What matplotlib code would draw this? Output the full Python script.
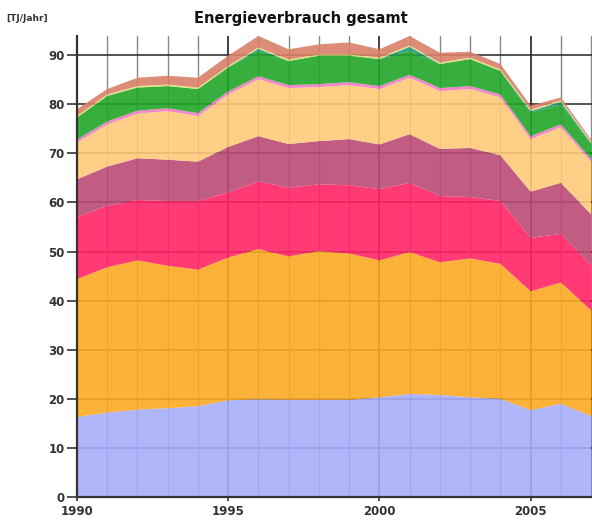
import numpy as np
import matplotlib
matplotlib.use("Agg")
import matplotlib.pyplot as plt
from matplotlib.ticker import MultipleLocator

# =============================================================================
# Data (TJ/Jahr per energy carrier)
# =============================================================================
years = list(range(1990, 2008))

blue   = [16.3, 17.2, 17.8, 18.1, 18.5, 19.7, 19.9, 19.8, 19.8, 19.8, 20.3, 21.0, 20.8, 20.3, 20.0, 17.7, 19.0, 16.5]
orange = [28.1, 29.6, 30.4, 29.0, 27.8, 29.1, 30.6, 29.2, 30.3, 29.8, 27.9, 28.9, 27.0, 28.3, 27.5, 24.2, 24.7, 21.5]
red    = [12.6, 12.5, 12.3, 13.2, 14.0, 13.2, 13.8, 14.0, 13.6, 13.9, 14.5, 14.1, 13.5, 12.5, 12.8, 10.9, 9.9, 9.3]
mauve  = [7.7, 8.0, 8.5, 8.4, 8.0, 9.3, 9.2, 8.9, 8.8, 9.4, 9.1, 9.9, 9.6, 10.0, 9.3, 9.4, 10.4, 10.3]
peach  = [7.5, 8.6, 9.1, 9.9, 9.3, 10.7, 11.6, 11.4, 11.0, 11.0, 11.3, 11.5, 11.8, 12.0, 11.8, 10.7, 11.3, 10.7]
pink   = [0.6, 0.6, 0.6, 0.6, 0.6, 0.6, 0.6, 0.6, 0.6, 0.6, 0.6, 0.6, 0.6, 0.6, 0.6, 0.6, 0.6, 0.6]
green  = [4.5, 5.2, 4.7, 4.5, 4.9, 4.9, 5.2, 4.9, 5.8, 5.4, 5.5, 4.9, 4.9, 5.5, 4.8, 4.8, 4.1, 3.0]
teal   = [0.0, 0.0, 0.0, 0.0, 0.0, 0.0, 0.4, 0.0, 0.0, 0.0, 0.0, 0.8, 0.0, 0.0, 0.0, 0.3, 0.5, 0.2]
yellow = [0.3, 0.3, 0.3, 0.3, 0.3, 0.3, 0.3, 0.3, 0.3, 0.3, 0.3, 0.3, 0.3, 0.3, 0.3, 0.3, 0.3, 0.3]
salmon = [1.4, 1.1, 1.7, 1.8, 2.0, 2.1, 2.3, 2.1, 2.0, 2.4, 1.7, 1.9, 2.0, 1.2, 1.1, 0.8, 0.6, 0.4]

layers = [blue, orange, red, mauve, peach, pink, green, teal, yellow, salmon]
colors = ["#a6aefa", "#fcaa22", "#ff2466", "#bb4a76", "#ffca7a",
          "#f07cc4", "#22a52a", "#1d9682", "#dede70", "#d98068"]

# =============================================================================
# Figure
# =============================================================================
fig = plt.figure(figsize=(5.92, 5.20), dpi=100)
ax = fig.add_axes([0.130, 0.0442, 0.870, 0.8875])

# grid sits below the (slightly transparent) areas
for yr in years:
    major = (yr % 5 == 0)
    ax.axvline(yr, color="#333333" if major else "#8a8a8a",
               lw=1.3 if major else 1.0, zorder=0)
for v in range(10, 100, 10):
    ax.axhline(v, color="#333333", lw=1.2, zorder=0)

ax.stackplot(years, *layers, colors=colors, alpha=0.9, lw=0, zorder=1)

ax.set_xlim(1990, 2007.03)
ax.set_ylim(0, 94)
ax.yaxis.set_major_locator(MultipleLocator(10))
ax.set_xticks([1990, 1995, 2000, 2005])

for side in ("top", "right"):
    ax.spines[side].set_visible(False)
for side in ("left", "bottom"):
    ax.spines[side].set_color("#333333")
    ax.spines[side].set_linewidth(1.6)
ax.spines["left"].set_zorder(3)
ax.spines["bottom"].set_zorder(3)

ax.tick_params(axis="y", direction="out", length=7, width=1.2, color="#333333",
               labelsize=8.5, labelcolor="#333333", pad=2)
ax.tick_params(axis="x", direction="out", length=3, width=1.2, color="#333333",
               labelsize=8.5, labelcolor="#333333", pad=2.5)
for lab in ax.get_xticklabels() + ax.get_yticklabels():
    lab.set_fontweight("bold")

fig.text(0.508, 0.965, "Energieverbrauch gesamt", ha="center", va="center",
         fontsize=10.5, fontweight="bold", color="#111111")
fig.text(0.010, 0.965, "[TJ/Jahr]", ha="left", va="center",
         fontsize=6.5, fontweight="bold", color="#333333")

fig.savefig("out.png", dpi=100)
